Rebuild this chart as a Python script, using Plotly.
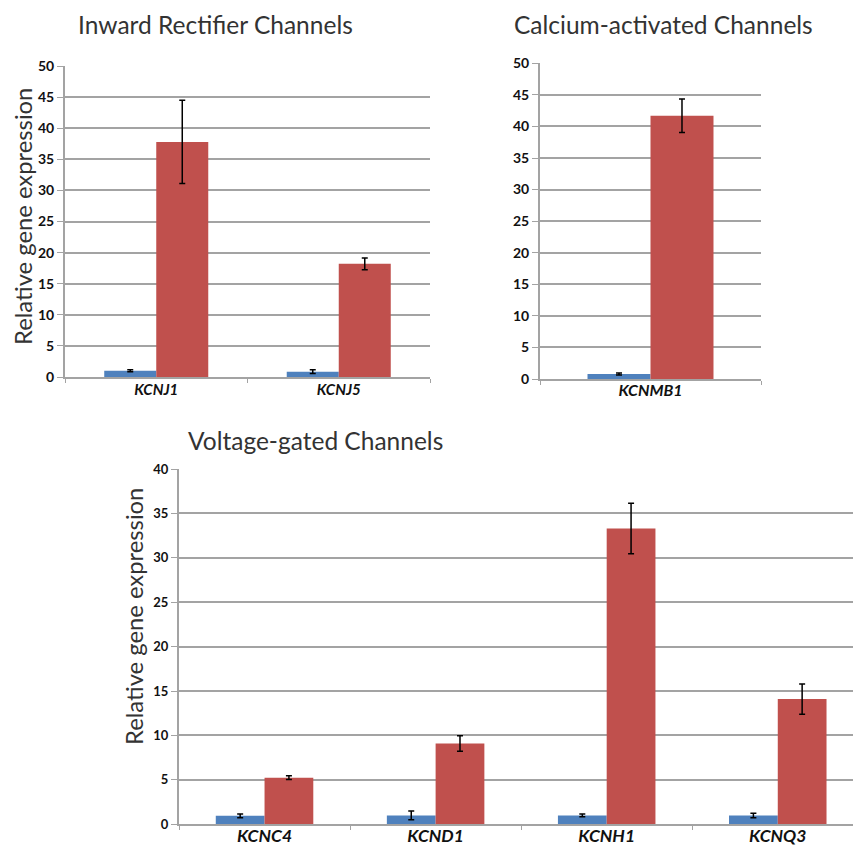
import plotly.graph_objects as go

# ---- data ----
ir_genes = ["KCNJ1", "KCNJ5"]
ir_blue = [1.0, 0.85]
ir_blue_err = [0.15, 0.3]
ir_red = [37.8, 18.2]
ir_red_err = [6.7, 0.95]

ca_genes = ["KCNMB1"]
ca_blue = [0.8]
ca_blue_err = [0.15]
ca_red = [41.7]
ca_red_err = [2.65]

vg_genes = ["KCNC4", "KCND1", "KCNH1", "KCNQ3"]
vg_blue = [0.95, 1.0, 1.0, 1.0]
vg_blue_err = [0.2, 0.5, 0.15, 0.25]
vg_red = [5.25, 9.1, 33.3, 14.1]
vg_red_err = [0.22, 0.87, 2.85, 1.7]

titles = ["Inward Rectifier Channels", "Calcium-activated Channels", "Voltage-gated Channels"]
ytitle = "Relative gene expression"

BLUE = "#4F81BD"
RED = "#C0504D"
GRID = "#a3a3a3"

W, H = 853, 846

fig = go.Figure()

def add_pair(cats, b, be, r, re, xa, ya):
    for vals, errs, col in ((b, be, BLUE), (r, re, RED)):
        fig.add_trace(go.Bar(
            x=cats, y=vals, xaxis=xa, yaxis=ya, marker=dict(color=col, line=dict(width=0)),
            error_y=dict(type="data", array=errs, visible=True, color="black", thickness=1.5, width=3),
            showlegend=False, hoverinfo="skip"))

add_pair(ir_genes, ir_blue, ir_blue_err, ir_red, ir_red_err, "x", "y")
add_pair(ca_genes, ca_blue, ca_blue_err, ca_red, ca_red_err, "x2", "y2")
add_pair(vg_genes, vg_blue, vg_blue_err, vg_red, vg_red_err, "x3", "y3")

def px_x(a, b):
    return [a / W, b / W]

def px_y(top, bottom):
    return [1 - bottom / H, 1 - top / H]

def py(y):
    return 1 - y / H

def xax(size, standoff):
    return dict(type="category", showgrid=False, showline=True, linecolor=GRID, linewidth=2,
                ticks="outside", tickson="boundaries", ticklen=4, tickcolor=GRID, tickwidth=1,
                tickfont=dict(family="Lato", size=size, color="#111", weight="bold", style="italic"),
                ticklabelstandoff=standoff, zeroline=False, fixedrange=True, automargin=False)

def yax(size):
    return dict(showgrid=True, gridcolor=GRID, gridwidth=2, showline=True, linecolor=GRID, linewidth=2,
                ticks="outside", ticklen=6, tickcolor=GRID, tickwidth=1, zeroline=False,
                tickfont=dict(family="Lato", size=size, color="#111", weight="bold"), dtick=5,
                fixedrange=True, automargin=False)

fig.update_layout(
    width=W, height=H, margin=dict(l=0, r=0, t=0, b=0, pad=0, autoexpand=False),
    paper_bgcolor="white", plot_bgcolor="white",
    barmode="group", bargap=0.43, bargroupgap=0,
    xaxis=dict(**xax(15, -2), domain=px_x(65, 430), anchor="y", range=[-0.5, 1.5]),
    yaxis=dict(**yax(14), domain=px_y(66, 377), anchor="x", range=[0, 50]),
    xaxis2=dict(**xax(16, -4), domain=px_x(540, 761), anchor="y2", range=[-0.5, 0.5]),
    yaxis2=dict(**yax(14), domain=px_y(63.3, 379), anchor="x2", range=[0, 50]),
    xaxis3=dict(**xax(17.5, -5), domain=px_x(179, 853), anchor="y3",
                range=[-0.5, -0.5 + (853 - 179.3) / 171]),
    yaxis3=dict(**yax(13), domain=px_y(469, 824.3), anchor="x3", range=[0, 40]),
)

tfont = dict(family="Lato", size=24.5, color="#333")
fig.add_annotation(text=titles[0], x=215 / W, y=py(25), xref="paper", yref="paper",
                   showarrow=False, font=tfont, xanchor="center", yanchor="middle")
fig.add_annotation(text=titles[1], x=663 / W, y=py(24), xref="paper", yref="paper",
                   showarrow=False, font=tfont, xanchor="center", yanchor="middle")
fig.add_annotation(text=titles[2], x=315 / W, y=py(440), xref="paper", yref="paper",
                   showarrow=False, font=tfont, xanchor="center", yanchor="middle")

yfont = dict(family="Lato", size=23.8, color="#333")
fig.add_annotation(text=ytitle, x=23 / W, y=py(217), xref="paper", yref="paper",
                   showarrow=False, font=yfont, textangle=-90, xanchor="center", yanchor="middle")
fig.add_annotation(text=ytitle, x=134 / W, y=py(617), xref="paper", yref="paper",
                   showarrow=False, font=yfont, textangle=-90, xanchor="center", yanchor="middle")

post = (
    "var d=document.getElementById('{plot_id}');"
    "d.style.position='fixed';d.style.top='0px';d.style.left='0px';"
    "document.documentElement.style.margin='0';document.body.style.margin='0';"
    "document.documentElement.style.overflow='hidden';document.body.style.overflow='hidden';"
    "document.body.style.height='846px';"
)

fig.write_html("out.html", config={"displayModeBar": False, "staticPlot": True}, post_script=post)
